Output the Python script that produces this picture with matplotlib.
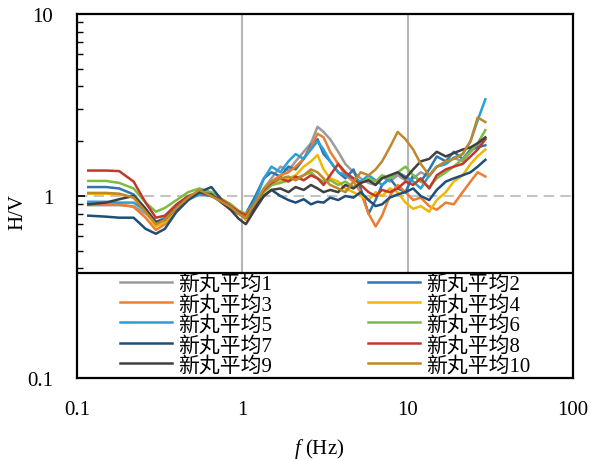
import matplotlib
matplotlib.use("Agg")
import matplotlib.pyplot as plt
from matplotlib.ticker import LogLocator, NullFormatter, FixedLocator
from matplotlib.patches import Rectangle

freq = [0.117, 0.15, 0.18, 0.22, 0.26, 0.3, 0.34, 0.4, 0.47, 0.55, 0.65, 0.75, 0.85, 0.95,
        1.05, 1.2, 1.35, 1.5, 1.7, 1.9, 2.1, 2.35, 2.6, 2.85, 3.1, 3.4, 3.8, 4.2, 4.7, 5.2,
        5.8, 6.4, 7.0, 7.8, 8.7, 9.7, 10.8, 12, 13.5, 15, 17, 19, 21.5, 24, 26.5, 29.5]

hv1 = [0.89, 0.89, 0.89, 0.88, 0.80, 0.71, 0.74, 0.84, 0.95, 1.02, 1.00, 0.93, 0.88, 0.82, 0.78, 0.92,
       1.10, 1.25, 1.45, 1.38, 1.55, 1.75, 1.95, 2.40, 2.25, 2.05, 1.75, 1.50, 1.35, 1.25, 1.18, 1.15,
       1.28, 1.20, 1.30, 1.22, 1.25, 1.35, 1.28, 1.45, 1.50, 1.62, 1.55, 1.75, 1.90, 2.05]
hv2 = [1.12, 1.12, 1.10, 1.02, 0.85, 0.70, 0.75, 0.88, 0.98, 1.05, 1.02, 0.92, 0.85, 0.80, 0.80, 1.00,
       1.25, 1.35, 1.28, 1.45, 1.40, 1.60, 1.90, 2.05, 1.70, 1.55, 1.35, 1.25, 1.40, 1.10, 0.80, 0.95,
       1.15, 1.25, 1.10, 1.05, 1.30, 1.20, 1.40, 1.65, 1.55, 1.75, 1.60, 1.80, 1.85, 1.90]
hv3 = [0.90, 0.90, 0.90, 0.87, 0.76, 0.65, 0.70, 0.82, 0.95, 1.08, 1.00, 0.96, 0.90, 0.82, 0.74, 0.88,
       1.05, 1.20, 1.30, 1.35, 1.45, 1.60, 1.85, 2.20, 2.10, 1.75, 1.50, 1.30, 1.20, 1.05, 0.80, 0.68,
       0.78, 1.00, 1.15, 1.05, 0.95, 0.98, 0.88, 0.84, 0.92, 0.90, 1.05, 1.20, 1.35, 1.28]
hv4 = [1.03, 1.03, 1.02, 0.98, 0.82, 0.68, 0.72, 0.85, 0.98, 1.05, 1.00, 0.93, 0.86, 0.80, 0.75, 0.90,
       1.05, 1.15, 1.20, 1.25, 1.30, 1.45, 1.55, 1.68, 1.40, 1.25, 1.20, 1.10, 1.05, 1.00, 0.95, 1.05,
       1.00, 1.10, 1.05, 0.92, 0.85, 0.88, 0.82, 0.95, 1.05, 1.20, 1.30, 1.50, 1.65, 1.80]
hv5 = [0.93, 0.93, 0.92, 0.92, 0.83, 0.72, 0.76, 0.88, 0.96, 1.02, 1.00, 0.95, 0.87, 0.80, 0.77, 0.95,
       1.25, 1.45, 1.35, 1.55, 1.70, 1.60, 1.80, 2.00, 1.80, 1.55, 1.35, 1.30, 1.25, 1.20, 1.30, 1.22,
       1.15, 1.25, 1.35, 1.28, 1.20, 1.10, 1.30, 1.45, 1.50, 1.62, 1.70, 2.00, 2.60, 3.40]
hv6 = [1.21, 1.21, 1.18, 1.10, 0.92, 0.82, 0.86, 0.95, 1.05, 1.10, 1.05, 0.96, 0.90, 0.83, 0.80, 0.92,
       1.05, 1.15, 1.18, 1.22, 1.25, 1.30, 1.35, 1.25, 1.20, 1.22, 1.15, 1.20, 1.12, 1.18, 1.25, 1.20,
       1.30, 1.25, 1.35, 1.45, 1.30, 1.20, 1.12, 1.25, 1.35, 1.45, 1.60, 1.75, 1.95, 2.30]
hv7 = [0.78, 0.77, 0.76, 0.76, 0.66, 0.62, 0.66, 0.82, 0.95, 1.05, 1.12, 0.95, 0.86, 0.80, 0.76, 0.88,
       1.00, 1.08, 1.00, 0.95, 0.92, 0.96, 0.90, 0.93, 0.92, 0.98, 0.95, 1.00, 0.98, 1.05, 0.95, 0.88,
       0.90, 0.98, 1.02, 1.05, 1.10, 1.00, 0.95, 1.08, 1.20, 1.25, 1.30, 1.35, 1.45, 1.58]
hv8 = [1.38, 1.38, 1.37, 1.20, 0.92, 0.76, 0.78, 0.90, 1.00, 1.05, 1.00, 0.95, 0.88, 0.82, 0.78, 0.92,
       1.08, 1.18, 1.25, 1.20, 1.28, 1.22, 1.30, 1.25, 1.15, 1.30, 1.50, 1.35, 1.25, 1.15, 1.05, 1.00,
       1.08, 1.05, 1.10, 1.20, 1.15, 1.25, 1.10, 1.30, 1.40, 1.45, 1.50, 1.65, 1.80, 2.05]
hv9 = [0.90, 0.92, 0.96, 1.00, 0.85, 0.72, 0.74, 0.86, 0.98, 1.05, 1.02, 0.92, 0.84, 0.75, 0.70, 0.85,
       1.00, 1.08, 1.10, 1.05, 1.12, 1.08, 1.15, 1.10, 1.05, 1.08, 1.05, 1.15, 1.10, 1.18, 1.22, 1.15,
       1.25, 1.30, 1.35, 1.25, 1.40, 1.55, 1.60, 1.75, 1.65, 1.72, 1.80, 1.85, 1.95, 2.10]
hv10 = [1.04, 1.04, 1.03, 0.98, 0.82, 0.70, 0.74, 0.86, 0.98, 1.08, 1.00, 0.93, 0.87, 0.80, 0.76, 0.92,
        1.10, 1.20, 1.25, 1.28, 1.22, 1.30, 1.40, 1.35, 1.25, 1.15, 1.10, 1.05, 1.20, 1.35, 1.30, 1.40,
        1.55, 1.85, 2.25, 2.05, 1.80, 1.50, 1.30, 1.45, 1.55, 1.60, 1.70, 2.00, 2.70, 2.55]

labels = ["新丸平均1", "新丸平均2", "新丸平均3", "新丸平均4", "新丸平均5",
          "新丸平均6", "新丸平均7", "新丸平均8", "新丸平均9", "新丸平均10"]
series = [hv1, hv2, hv3, hv4, hv5, hv6, hv7, hv8, hv9, hv10]
colors = ["#9b9b9b", "#2e75b6", "#ed7d31", "#f2b705", "#2a9fd6",
          "#7dbb42", "#1f4e79", "#c0392b", "#404040", "#c0872b"]

xticks = [0.1, 1, 10, 100]
xticklabels = ["0.1", "1", "10", "100"]
yticks = [0.1, 1, 10]
yticklabels = ["0.1", "1", "10"]

fam = ["Liberation Serif", "Noto Sans CJK SC"]
plt.rcParams["font.family"] = fam
plt.rcParams["mathtext.fontset"] = "custom"
plt.rcParams["mathtext.it"] = "Liberation Serif:italic"
plt.rcParams["mathtext.rm"] = "Liberation Serif"

fig = plt.figure(figsize=(5.91, 4.60), dpi=100)
ax = fig.add_axes([77/591, 1-379/460, (573-77)/591, (379-15)/460])

ax.set_xscale("log")
ax.set_yscale("log")
ax.set_xlim(0.1, 100)
ax.set_ylim(0.1, 10)

ax.axvline(1, color="#b5b5b5", lw=1.5, zorder=1)
ax.axvline(10, color="#b5b5b5", lw=1.5, zorder=1)
ax.axhline(1, color="#c4c4c4", lw=1.5, ls=(0, (5, 3)), zorder=1)

handles = []
for s, c, lab in zip(series, colors, labels):
    h, = ax.plot(freq, s, color=c, lw=1.8, label=lab, zorder=3)
    handles.append(h)

ax.xaxis.set_major_locator(FixedLocator(xticks))
ax.set_xticklabels(xticklabels)
ax.yaxis.set_major_locator(FixedLocator(yticks))
ax.set_yticklabels(yticklabels)
ax.xaxis.set_minor_locator(LogLocator(base=10, subs=range(2, 10)))
ax.yaxis.set_minor_locator(LogLocator(base=10, subs=range(2, 10)))
ax.xaxis.set_minor_formatter(NullFormatter())
ax.yaxis.set_minor_formatter(NullFormatter())
ax.tick_params(which="major", direction="in", length=6, width=1.2, labelsize=15)
ax.tick_params(axis="x", which="major", pad=16)
ax.tick_params(axis="y", which="major", pad=17)
ax.tick_params(which="minor", direction="in", length=4, width=1.0)
ax.tick_params(top=False, right=False, which="both")

for sp in ax.spines.values():
    sp.set_linewidth(1.6)

# legend frame box
rect = Rectangle((0, 0), 1, (379-274)/364, transform=ax.transAxes,
                 facecolor="white", edgecolor="black", lw=1.6, zorder=4)
ax.add_patch(rect)

order = [0, 2, 4, 6, 8, 1, 3, 5, 7, 9]
leg = ax.legend(handles=[handles[i] for i in order], labels=[labels[i] for i in order],
                ncol=2, loc="upper left",
                bbox_to_anchor=(43/496, (379-275)/364), frameon=False,
                fontsize=15, borderpad=0, labelspacing=0.03, handlelength=2.5,
                handletextpad=0.3, columnspacing=4.6, borderaxespad=0)
leg.set_zorder(5)

ax.set_ylabel("H/V", fontsize=15)
ax.yaxis.set_label_coords(-0.101, (379-212)/364)
ax.set_xlabel(r"$f$ (Hz)", fontsize=15)
ax.xaxis.set_label_coords(0.489, (379-437)/364)

fig.savefig("out.png", dpi=100, facecolor="white")
